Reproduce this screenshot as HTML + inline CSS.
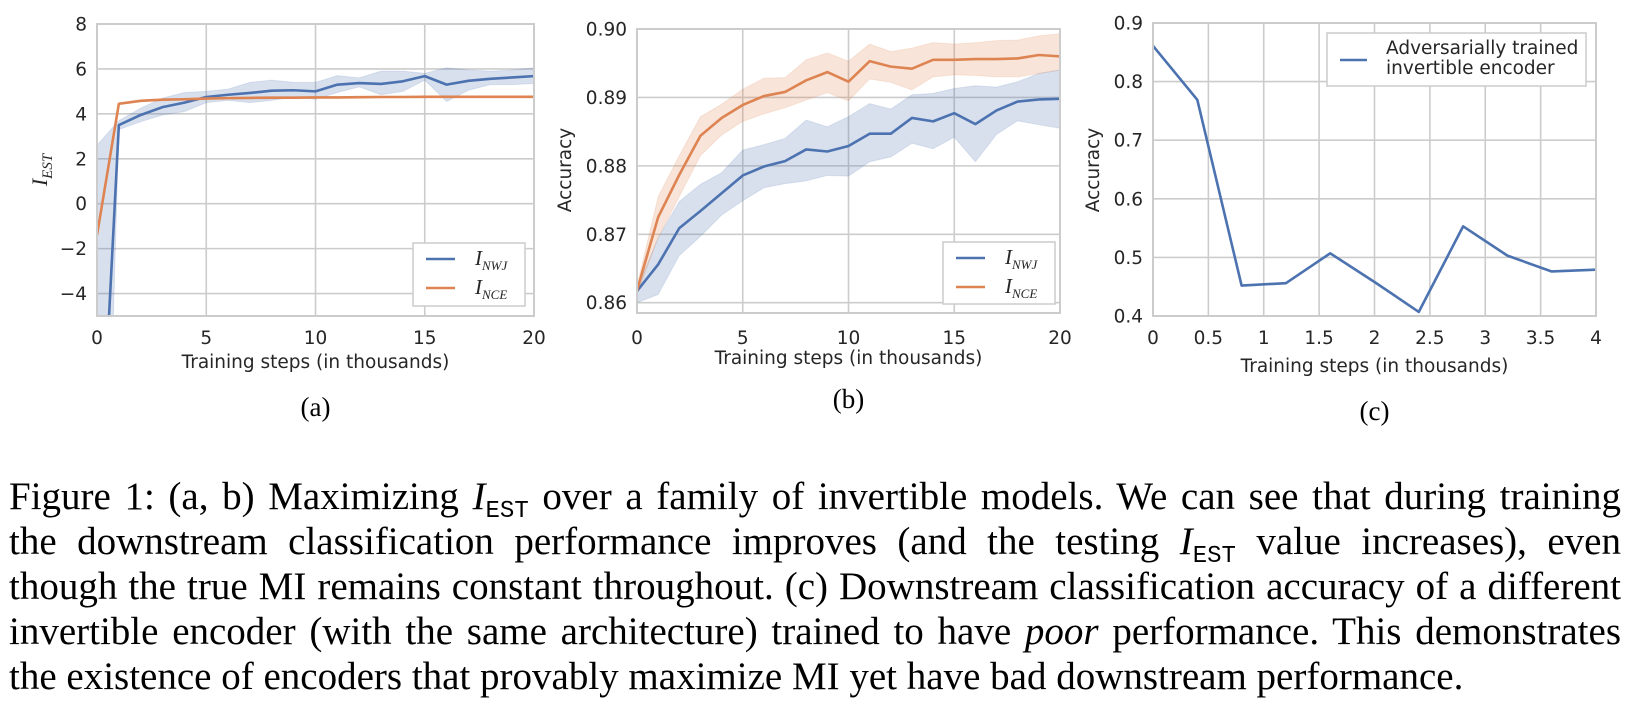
<!DOCTYPE html>
<html><head><meta charset="utf-8">
<style>
html,body{margin:0;padding:0;background:#fff;width:1640px;height:714px;overflow:hidden}
svg text{font-family:"DejaVu Sans","Liberation Sans",sans-serif}
#cap{position:absolute;left:9px;top:474px;width:1612px;height:235px;overflow:hidden;font-family:"Liberation Serif",serif;font-size:39px;line-height:45px;color:#000}
#cap div{text-align:justify;text-align-last:justify;white-space:nowrap;height:45px}
#cap div.last{text-align-last:left}
.m{font-style:italic}
.tt{font-family:"Liberation Mono",monospace;font-size:24px;font-style:normal;line-height:0;position:relative;top:8px}
</style></head><body>
<svg id="fig" width="1640" height="470" style="position:absolute;left:0;top:0"></svg>
<div id="cap">
<div>Figure 1: (a, b) Maximizing <span class="m">I</span><span class="tt">EST</span> over a family of invertible models. We can see that during training</div>
<div>the downstream classification performance improves (and the testing <span class="m">I</span><span class="tt">EST</span> value increases), even</div>
<div>though the true MI remains constant throughout. (c) Downstream classification accuracy of a different</div>
<div>invertible encoder (with the same architecture) trained to have <i>poor</i> performance. This demonstrates</div>
<div class="last">the existence of encoders that provably maximize MI yet have bad downstream performance.</div>
</div>
<script>
// Panel (a)
const aSteps=[0,1,2,3,4,5,6,7,8,9,10,11,12,13,14,15,16,17,18,19,20];
const aNWJ=[-15.4,3.5,3.95,4.3,4.5,4.75,4.85,4.93,5.03,5.05,5.0,5.3,5.37,5.33,5.45,5.68,5.3,5.47,5.56,5.62,5.68];
const aNWJhi=[2.6,3.7,4.25,4.7,4.95,5.0,5.1,5.4,5.5,5.4,5.4,5.7,5.6,5.9,5.9,5.8,6.05,5.95,5.9,5.95,6.05];
const aNWJlo=[-30,3.3,3.65,3.95,4.1,4.5,4.6,4.5,4.6,4.75,4.65,4.95,5.2,4.85,5.0,5.5,4.55,5.05,5.3,5.3,5.35];
const aNCE=[-1.4,4.45,4.58,4.63,4.65,4.68,4.7,4.71,4.72,4.72,4.73,4.73,4.74,4.75,4.75,4.76,4.76,4.76,4.76,4.76,4.76];
const aYTicks=[-4,-2,0,2,4,6,8];
const aXTicks=[0,5,10,15,20];
// Panel (b)
const bSteps=[0,1,2,3,4,5,6,7,8,9,10,11,12,13,14,15,16,17,18,19,20];
const bNWJ=[0.8617,0.8656,0.8709,0.8734,0.876,0.8786,0.8799,0.8807,0.8824,0.8821,0.8829,0.8847,0.8847,0.887,0.8865,0.8877,0.8861,0.8881,0.8894,0.8897,0.8898];
const bNWJhi=[0.862,0.8695,0.8748,0.8773,0.879,0.8823,0.8831,0.884,0.8867,0.8857,0.8872,0.8891,0.8883,0.8904,0.8906,0.8913,0.8917,0.8915,0.8923,0.8935,0.894];
const bNWJlo=[0.860,0.8612,0.8669,0.8697,0.8728,0.8749,0.8768,0.8774,0.8778,0.8786,0.8785,0.8806,0.8813,0.8833,0.8825,0.8842,0.8806,0.8846,0.8866,0.886,0.8855];
const bNCE=[0.8618,0.8725,0.8787,0.8844,0.887,0.8889,0.8902,0.8908,0.8925,0.8937,0.8923,0.8953,0.8945,0.8942,0.8955,0.8955,0.8956,0.8956,0.8957,0.8962,0.896];
const bNCEhi=[0.8625,0.8755,0.8815,0.8872,0.889,0.8912,0.8928,0.8929,0.8955,0.8965,0.8953,0.8978,0.8967,0.8972,0.898,0.8978,0.898,0.8983,0.8984,0.899,0.8993];
const bNCElo=[0.8612,0.8695,0.8755,0.8815,0.8845,0.8865,0.8876,0.8885,0.8896,0.8907,0.8895,0.8927,0.8922,0.8911,0.893,0.8933,0.8932,0.893,0.893,0.8935,0.894];
const bYTicks=[0.86,0.87,0.88,0.89,0.90];
const bXTicks=[0,5,10,15,20];
// Panel (c)
const cSteps=[0,0.4,0.8,1.2,1.6,2.0,2.4,2.8,3.2,3.6,4.0];
const cAcc=[0.861,0.769,0.452,0.456,0.507,0.458,0.407,0.553,0.503,0.476,0.479];
const cYTicks=[0.4,0.5,0.6,0.7,0.8,0.9];
const cXTicks=[0,0.5,1,1.5,2,2.5,3,3.5,4];

const NS="http://www.w3.org/2000/svg";
const svg=document.getElementById('fig');
const BLUE="#4c72b0",ORANGE="#dd8452";
function mk(tag,attrs,parent){const e=document.createElementNS(NS,tag);for(const k in attrs)e.setAttribute(k,attrs[k]);(parent||svg).appendChild(e);return e;}

function panel(o){
  const g=mk('g',{});
  
  
  const sx=v=>o.L+(v-o.x0)/(o.x1-o.x0)*(o.R-o.L);
  const sy=v=>o.B-(v-o.y0)/(o.y1-o.y0)*(o.B-o.T);
  const cp=mk('clipPath',{id:o.name+'-clip'},g);
  mk('rect',{x:o.L,y:o.T,width:o.R-o.L,height:o.B-o.T},cp);
  o.xg.forEach(v=>{const l=mk('line',{x1:sx(v),x2:sx(v),y1:o.T,y2:o.B,stroke:'#cccccc','stroke-width':1.6},g);
    });
  o.yt.forEach(v=>{const l=mk('line',{x1:o.L,x2:o.R,y1:sy(v),y2:sy(v),stroke:'#cccccc','stroke-width':1.6},g);
    });
  const pg=mk('g',{'clip-path':'url(#'+o.name+'-clip)'},g);
  (o.bands||[]).forEach(b=>{
    let d='M'+o.xs.map((x,i)=>sx(x)+','+sy(b.hi[i])).join('L');
    for(let i=o.xs.length-1;i>=0;i--)d+='L'+sx(o.xs[i])+','+sy(b.lo[i]);
    const p=mk('path',{d:d+'Z',fill:b.c,'fill-opacity':0.22,stroke:b.c,'stroke-opacity':0.15},pg);
    
  });
  o.lines.forEach(s=>{
    const p=mk('polyline',{points:o.xs.map((x,i)=>sx(x)+','+sy(s.v[i])).join(' '),fill:'none',stroke:s.c,'stroke-width':2.6,'stroke-linejoin':'round'},pg);
    
  });
  const fr=mk('rect',{x:o.L,y:o.T,width:o.R-o.L,height:o.B-o.T,fill:'none',stroke:'#cccccc','stroke-width':2},g);
  
  o.yt.forEach(v=>{const t=mk('text',{x:o.L-10,y:sy(v)+6.5,'text-anchor':'end','font-size':18.5,fill:'#262626'},g);
    t.textContent=o.yf(v).replace('-','\u2212');});
  o.xt.forEach(v=>{const t=mk('text',{x:sx(v),y:344,'text-anchor':'middle','font-size':18.5,fill:'#262626'},g);
    t.textContent=String(v);});
  const xl=mk('text',{x:(o.L+o.R)/2,y:o.xly,'text-anchor':'middle','font-size':18.5,fill:'#262626'},g);
  xl.textContent='Training steps (in thousands)';
  const sub=mk('text',{x:(o.L+o.R)/2,y:o.suby,'text-anchor':'middle','font-size':27,fill:'#000',style:'font-family:"Liberation Serif",serif'},g);
  sub.textContent=o.sub;
  return {g,sx,sy};
}

const pa=panel({name:'panel-a',L:97,R:534,T:24,B:316,x0:0,x1:20,y0:-5,y1:8,xs:aSteps,xg:aXTicks,yt:aYTicks,xt:aXTicks,
  yf:v=>String(v),xly:368,suby:416,sub:'(a)',
  bands:[{hi:aNWJhi,lo:aNWJlo,c:BLUE,n:'nwj-band'},{hi:aNCE.map(v=>v+0.04),lo:aNCE.map(v=>v-0.04),c:ORANGE,n:'nce-band'}],
  lines:[{v:aNWJ,c:BLUE,n:'nwj-line'},{v:aNCE,c:ORANGE,n:'nce-line'}]});
const pb=panel({name:'panel-b',L:637,R:1060,T:29,B:313,x0:0,x1:20,y0:0.8585,y1:0.90,xs:bSteps,xg:bXTicks,yt:bYTicks,xt:bXTicks,
  yf:v=>v.toFixed(2),xly:364,suby:408,sub:'(b)',
  bands:[{hi:bNWJhi,lo:bNWJlo,c:BLUE,n:'nwj-band'},{hi:bNCEhi,lo:bNCElo,c:ORANGE,n:'nce-band'}],
  lines:[{v:bNWJ,c:BLUE,n:'nwj-line'},{v:bNCE,c:ORANGE,n:'nce-line'}]});
const pc=panel({name:'panel-c',L:1153,R:1596,T:23,B:316,x0:0,x1:4,y0:0.4,y1:0.9,xs:cSteps,xg:cXTicks,yt:cYTicks,xt:cXTicks,
  yf:v=>v.toFixed(1),xly:372,suby:420,sub:'(c)',
  lines:[{v:cAcc,c:BLUE,n:'accuracy-line'}]});

function ylab(x,y,html,name){
  const t=mk('text',{x:0,y:0,transform:`translate(${x},${y}) rotate(-90)`,'text-anchor':'middle','font-size':18.5,fill:'#262626'});
  t.innerHTML=html;
}
ylab(47,170,'<tspan style="font-family:Liberation Serif,serif;font-style:italic;font-size:22px">I</tspan><tspan dy="5" style="font-family:Liberation Serif,serif;font-style:italic;font-size:15px">EST</tspan>','y-axis-title');
ylab(571,170,'Accuracy','y-axis-title');
ylab(1099,170,'Accuracy','y-axis-title');

function legend(x,y,w,h,items,name){
  const g=mk('g',{});
  mk('rect',{x:x,y:y,width:w,height:h,fill:'#fff',stroke:'#cccccc','stroke-width':1.5},g);
  items.forEach((it,i)=>{
    const yy=y+16+i*29;
    const l=mk('line',{x1:x+13,x2:x+42,y1:yy,y2:yy,stroke:it.c,'stroke-width':2.6},g);
    
    const t=mk('text',{x:x+62,y:yy+6,'font-size':21,fill:'#262626',style:'font-family:"Liberation Serif",serif;font-style:italic'},g);
    t.innerHTML='I<tspan dy="5" font-size="13">'+it.s+'</tspan>';
    
  });
}
legend(413,243,112,63,[{c:BLUE,s:'NWJ'},{c:ORANGE,s:'NCE'}],'legend-a');
legend(943,242,112,62,[{c:BLUE,s:'NWJ'},{c:ORANGE,s:'NCE'}],'legend-b');
(function(){
  const g=mk('g',{});
  mk('rect',{x:1327,y:33,width:259,height:53,fill:'#fff',stroke:'#cccccc','stroke-width':1.5},g);
  mk('line',{x1:1340,x2:1367,y1:60,y2:60,stroke:BLUE,'stroke-width':2.6},g);
  const t1=mk('text',{x:1386,y:54,'font-size':18.5,fill:'#262626'},g);t1.textContent='Adversarially trained';
  
  const t2=mk('text',{x:1386,y:74,'font-size':18.5,fill:'#262626'},g);t2.textContent='invertible encoder';
  
})();
</script>
</body></html>
